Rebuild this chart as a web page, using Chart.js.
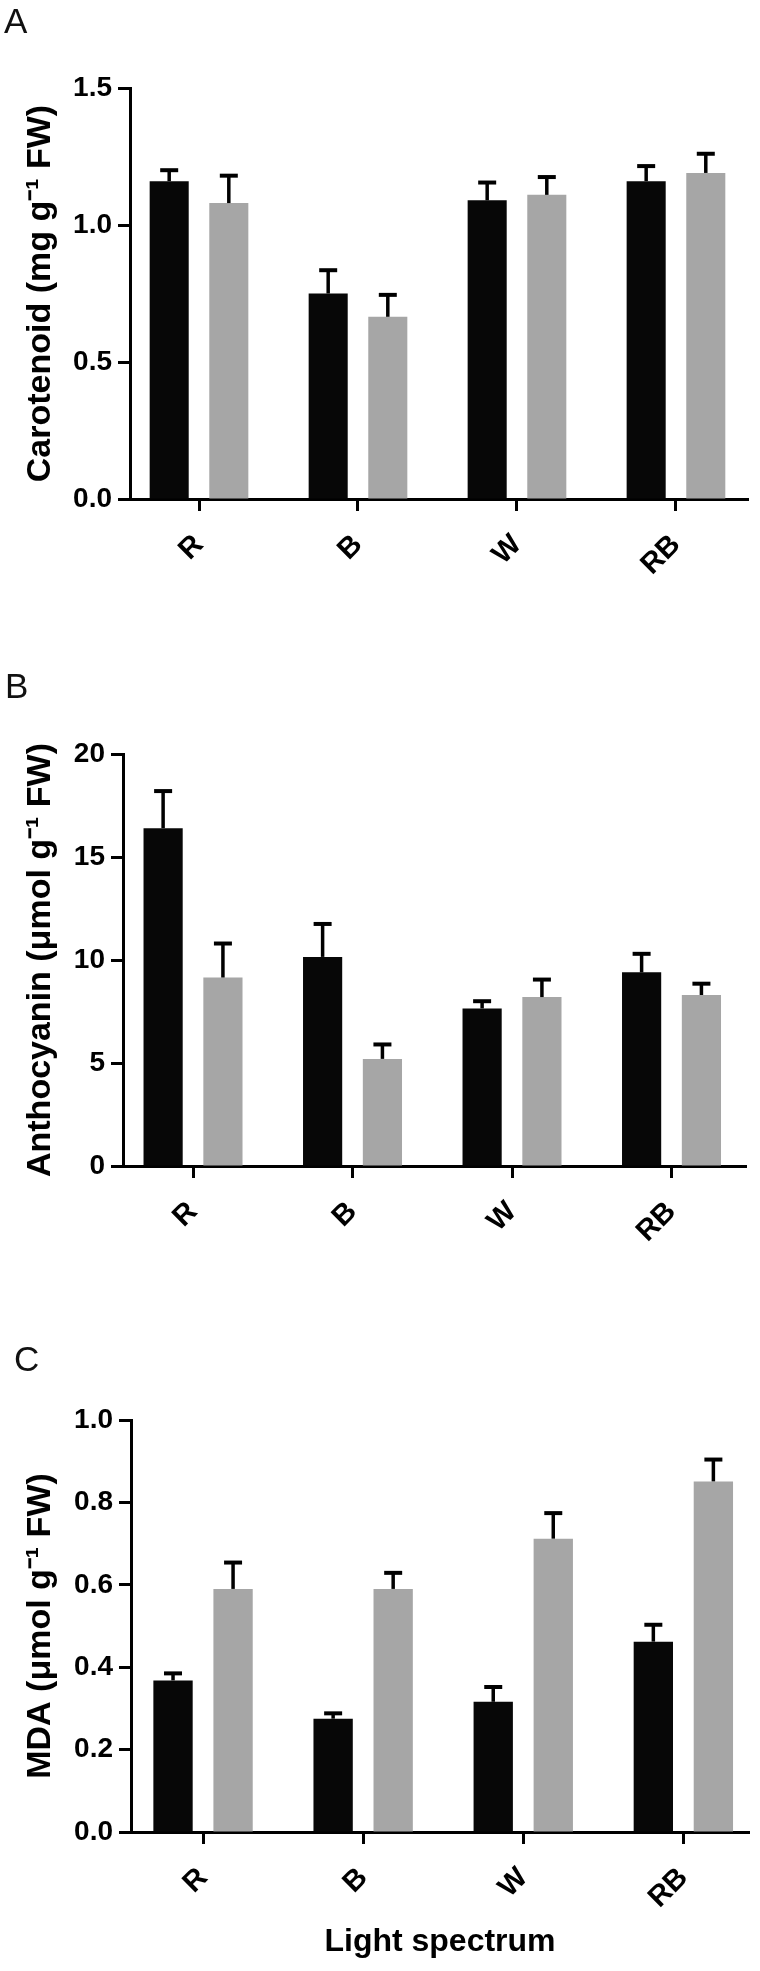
<!DOCTYPE html>
<html lang="en">
<head>
  <meta charset="UTF-8" />
  <title>Light spectrum – carotenoid, anthocyanin, MDA</title>
  <script src="https://cdn.jsdelivr.net/npm/chart.js"></script>
  <style>
    body {
      margin: 0;
      background: #ffffff;
      font-family: 'Liberation Sans', Arial, sans-serif;
    }
    .page {
      position: relative;
      width: 760px;
      height: 1971px;
      overflow: hidden;
    }
    .panel {
      position: absolute;
      left: 0;
      width: 760px;
    }
    .letter {
      position: absolute;
      font-size: 35px;
      line-height: 35px;
      color: #111;
      z-index: 2;
    }
  </style>
</head>
<body>
  <div class="page">
    <div class="letter" style="left:4px;top:3px">A</div>
    <div class="letter" style="left:5px;top:668px">B</div>
    <div class="letter" style="left:14px;top:1341px">C</div>
    <div class="panel" style="top:0;height:620px"><canvas id="chartA"></canvas></div>
    <div class="panel" style="top:660px;height:620px"><canvas id="chartB"></canvas></div>
    <div class="panel" style="top:1330px;height:641px"><canvas id="chartC"></canvas></div>
  </div>

  <script>
    const categories = ['R', 'B', 'W', 'RB'];

    // A: carotenoid (mg g-1 FW)
    const carotenoidBlack = [1.16, 0.75, 1.09, 1.16];
    const carotenoidBlackErr = [0.04, 0.085, 0.065, 0.055];
    const carotenoidGray = [1.08, 0.665, 1.11, 1.19];
    const carotenoidGrayErr = [0.10, 0.08, 0.065, 0.07];

    // B: anthocyanin (umol g-1 FW)
    const anthocyaninBlack = [16.4, 10.15, 7.65, 9.4];
    const anthocyaninBlackErr = [1.8, 1.6, 0.35, 0.9];
    const anthocyaninGray = [9.15, 5.2, 8.2, 8.3];
    const anthocyaninGrayErr = [1.65, 0.7, 0.85, 0.55];

    // C: MDA (umol g-1 FW)
    const mdaBlack = [0.368, 0.275, 0.316, 0.462];
    const mdaBlackErr = [0.017, 0.013, 0.036, 0.041];
    const mdaGray = [0.59, 0.59, 0.712, 0.851];
    const mdaGrayErr = [0.064, 0.039, 0.062, 0.053];

    const FONT = "'Liberation Sans', Arial, sans-serif";
    const BLACK = '#070707';
    const GRAY = '#a6a6a6';

    // upward-only error bars (T caps), drawn from the bar top
    const errorBars = {
      id: 'errorBars',
      afterDatasetsDraw(chart) {
        const ctx = chart.ctx;
        const yScale = chart.scales.y;
        ctx.save();
        ctx.strokeStyle = '#000';
        chart.data.datasets.forEach((ds, i) => {
          const meta = chart.getDatasetMeta(i);
          meta.data.forEach((bar, j) => {
            const v = ds.data[j].y;
            const yTop = yScale.getPixelForValue(v + ds.errors[j]);
            ctx.lineWidth = 3.5;
            ctx.beginPath();
            ctx.moveTo(bar.x, bar.y);
            ctx.lineTo(bar.x, yTop);
            ctx.stroke();
            ctx.lineWidth = 4;
            ctx.beginPath();
            ctx.moveTo(bar.x - 9, yTop);
            ctx.lineTo(bar.x + 9, yTop);
            ctx.stroke();
          });
        });
        ctx.restore();
      }
    };

    function makeChart(id, cfg) {
      const toPoints = arr => arr.map((v, i) => ({ x: i, y: v }));
      return new Chart(document.getElementById(id), {
        type: 'bar',
        data: {
          datasets: [
            { label: 'Group 1', data: toPoints(cfg.black), errors: cfg.blackErr, backgroundColor: BLACK, borderWidth: 0 },
            { label: 'Group 2', data: toPoints(cfg.gray), errors: cfg.grayErr, backgroundColor: GRAY, borderWidth: 0 }
          ]
        },
        options: {
          responsive: true,
          maintainAspectRatio: false,
          animation: false,
          categoryPercentage: 0.75,
          barPercentage: 0.655,
          layout: { padding: { top: cfg.top, right: cfg.right, bottom: 0, left: 0 } },
          plugins: {
            legend: { display: false },
            tooltip: { enabled: false }
          },
          scales: {
            x: {
              type: 'linear',
              min: cfg.xMin,
              max: cfg.xMax,
              offset: false,
              afterBuildTicks: s => { s.ticks = categories.map((c, i) => ({ value: i })); },
              afterFit: s => { s.height = cfg.xHeight; },
              border: { display: true, color: '#000', width: 3 },
              grid: { display: true, drawOnChartArea: false, offset: false, drawTicks: true, tickLength: 12, tickWidth: 3, tickColor: '#000', color: '#000' },
              ticks: {
                autoSkip: false,
                minRotation: 45,
                maxRotation: 45,
                padding: 17,
                color: '#000',
                font: { family: FONT, size: 29, weight: 'bold' },
                callback: v => categories[v]
              },
              title: cfg.xTitle ? {
                display: true,
                text: cfg.xTitle,
                color: '#000',
                font: { family: FONT, size: 32, weight: 'bold' },
                padding: { top: 0, bottom: 10 }
              } : { display: false }
            },
            y: {
              type: 'linear',
              min: 0,
              max: cfg.yMax,
              afterFit: s => { s.width = cfg.axisX; },
              border: { display: true, color: '#000', width: 3 },
              grid: { display: true, drawOnChartArea: false, drawTicks: true, tickLength: 12, tickWidth: 3, tickColor: '#000', color: '#000' },
              ticks: {
                stepSize: cfg.step,
                padding: 6,
                color: '#000',
                font: { family: FONT, size: 28, weight: 'bold' },
                callback: v => cfg.decimals ? v.toFixed(cfg.decimals) : String(v)
              },
              title: {
                display: true,
                text: cfg.yTitle,
                color: '#000',
                font: { family: FONT, size: 34, weight: 'bold' },
                padding: { top: 20, bottom: 0 }
              }
            }
          }
        },
        plugins: [errorBars]
      });
    }

    makeChart('chartA', {
      black: carotenoidBlack, blackErr: carotenoidBlackErr,
      gray: carotenoidGray, grayErr: carotenoidGrayErr,
      yMax: 1.5, step: 0.5, decimals: 1,
      yTitle: 'Carotenoid (mg g\u207B\u00B9 FW)',
      top: 88, right: 12, xHeight: 121, axisX: 130,
      xMin: -0.434, xMax: 3.453
    });

    makeChart('chartB', {
      black: anthocyaninBlack, blackErr: anthocyaninBlackErr,
      gray: anthocyaninGray, grayErr: anthocyaninGrayErr,
      yMax: 20, step: 5, decimals: 0,
      yTitle: 'Anthocyanin (\u03BCmol g\u207B\u00B9 FW)',
      top: 94, right: 14, xHeight: 114, axisX: 123,
      xMin: -0.439, xMax: 3.467
    });

    makeChart('chartC', {
      black: mdaBlack, blackErr: mdaBlackErr,
      gray: mdaGray, grayErr: mdaGrayErr,
      yMax: 1.0, step: 0.2, decimals: 1,
      yTitle: 'MDA (\u03BCmol g\u207B\u00B9 FW)',
      xTitle: 'Light spectrum',
      top: 90, right: 11, xHeight: 139, axisX: 131,
      xMin: -0.45, xMax: 3.41
    });
  </script>
</body>
</html>
